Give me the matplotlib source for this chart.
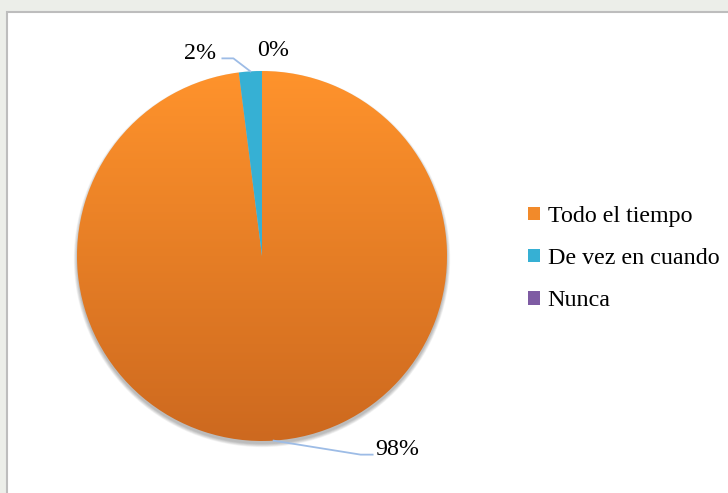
import numpy as np
import matplotlib.pyplot as plt
from matplotlib.patches import Rectangle, Circle
from matplotlib.colors import LinearSegmentedColormap

# survey answers
categories = ['Todo el tiempo', 'De vez en cuando', 'Nunca']
shares = [98, 2, 0]
pct_labels = ['98%', '2%', '0%']
colors = ['#F28A2A', '#36B0D4', '#7E5BA3']

plt.rcParams['font.family'] = ['Liberation Serif', 'DejaVu Serif']
FS = 17.3

W, H = 728, 493
fig = plt.figure(figsize=(W / 100, H / 100), dpi=100)
fig.patch.set_facecolor('#eceee9')

# white chart area with thin grey border
fig.patches.append(Rectangle((7 / W, -0.02), 1.0, 1.02 - 12 / H,
                             transform=fig.transFigure, facecolor='white',
                             edgecolor='#bdbdbd', lw=1.5, zorder=-5))

# pie axes: centre (262, 256) px, radius 185 px
R = 185
cx, cy = 262, 256
ax = fig.add_axes([(cx - R) / W, (H - cy - R) / H, 2 * R / W, 2 * R / H])
wedges, _ = ax.pie(shares, colors=colors, startangle=90, counterclock=False,
                   radius=1, wedgeprops=dict(linewidth=0))
ax.set_xlim(-1, 1)
ax.set_ylim(-1, 1)
ax.set_aspect('equal')
ax.axis('off')

# soft drop shadow, offset downwards
for i in range(8):
    ax.add_patch(Circle((0, -0.016), 1 + 0.0025 * i, color='k',
                        alpha=0.035, lw=0, zorder=0.5, clip_on=False))

# vertical orange gradient inside the big slice
orange = LinearSegmentedColormap.from_list('orange', ['#CD691F', '#FF932C'])
grad = np.linspace(0, 1, 256).reshape(-1, 1)
wedges[0].set_facecolor('none')
im = ax.imshow(grad, extent=(-1, 1, -1, 1), origin='lower', cmap=orange,
               aspect='auto', zorder=1)
im.set_clip_path(wedges[0])
for w in wedges:
    w.set_zorder(2)

# data labels with leader lines
line_col = '#9DBCE6'
total = sum(shares)
start = 0
mids = []
for s in shares:
    mid = 90 - (start + s / 2) / total * 360
    mids.append(np.deg2rad(mid))
    start += s

def px(dx, dy):
    return dx / R, -dy / R

# 98%
a = mids[0]
x0, y0 = np.cos(a), np.sin(a)
ex, ey = px(87, 14)
ax.plot([x0, x0 + ex, x0 + ex + 12 / R], [y0, y0 + ey, y0 + ey],
        color=line_col, lw=1.3, clip_on=False, zorder=3)
ax.text(x0 + ex + 15 / R, y0 + ey + 5 / R, pct_labels[0], fontsize=FS,
        ha='left', va='center')

# 2%
a = mids[1]
x0, y0 = np.cos(a), np.sin(a)
ex, ey = px(-17, -13)
ax.plot([x0, x0 + ex, x0 + ex - 11 / R], [y0, y0 + ey, y0 + ey],
        color=line_col, lw=1.3, clip_on=False, zorder=3)
ax.text(x0 + ex - 17 / R, y0 + ey + 5 / R, pct_labels[1], fontsize=FS,
        ha='right', va='center')

# 0%
a = mids[2]
x0, y0 = np.cos(a), np.sin(a)
ax.text(x0 + 11 / R, y0 + 21 / R, pct_labels[2], fontsize=FS,
        ha='center', va='center')

# legend
handles = [Rectangle((0, 0), 1, 1, facecolor=c, edgecolor='none') for c in colors]
fig.legend(handles, categories, loc='upper left',
           bbox_to_anchor=(528 / W, 1 - 206 / H), frameon=False,
           fontsize=FS, handlelength=0.52, handleheight=0.5,
           handletextpad=0.3, labelspacing=0.88, borderpad=0, borderaxespad=0)

fig.savefig('out.png', dpi=100, facecolor=fig.get_facecolor())
